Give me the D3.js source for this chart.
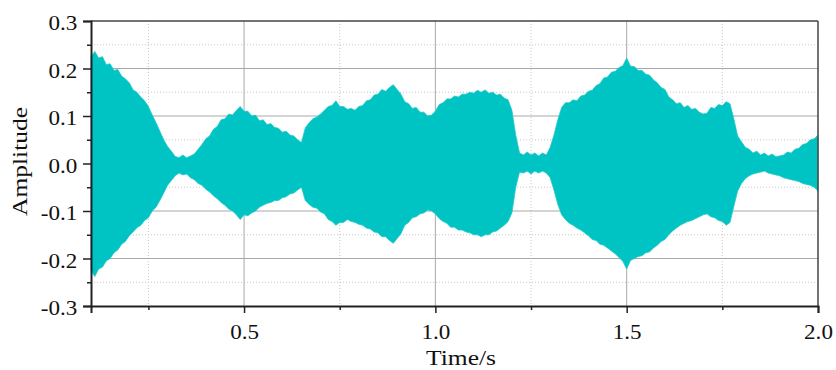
<!DOCTYPE html>
<html>
<head>
<meta charset="utf-8">
<script src="https://cdn.jsdelivr.net/npm/d3@7/dist/d3.min.js"></script>
<style>
  body { margin: 0; background: #fff; }
  svg { display: block; font-family: "Liberation Serif", "Times New Roman", serif; }
</style>
</head>
<body>
<svg id="svg1" width="836" height="370"></svg>
<script>
// envelope of the signal (upper / lower peaks), every 0.01 s
var time = [0.10, 0.11, 0.12, 0.13, 0.14, 0.15, 0.16, 0.17, 0.18, 0.19,
    0.20, 0.21, 0.22, 0.23, 0.24, 0.25, 0.26, 0.27, 0.28, 0.29,
    0.30, 0.31, 0.32, 0.33, 0.34, 0.35, 0.36, 0.37, 0.38, 0.39,
    0.40, 0.41, 0.42, 0.43, 0.44, 0.45, 0.46, 0.47, 0.48, 0.49,
    0.50, 0.51, 0.52, 0.53, 0.54, 0.55, 0.56, 0.57, 0.58, 0.59,
    0.60, 0.61, 0.62, 0.63, 0.64, 0.65, 0.66, 0.67, 0.68, 0.69,
    0.70, 0.71, 0.72, 0.73, 0.74, 0.75, 0.76, 0.77, 0.78, 0.79,
    0.80, 0.81, 0.82, 0.83, 0.84, 0.85, 0.86, 0.87, 0.88, 0.89,
    0.90, 0.91, 0.92, 0.93, 0.94, 0.95, 0.96, 0.97, 0.98, 0.99,
    1.00, 1.01, 1.02, 1.03, 1.04, 1.05, 1.06, 1.07, 1.08, 1.09,
    1.10, 1.11, 1.12, 1.13, 1.14, 1.15, 1.16, 1.17, 1.18, 1.19,
    1.20, 1.21, 1.22, 1.23, 1.24, 1.25, 1.26, 1.27, 1.28, 1.29,
    1.30, 1.31, 1.32, 1.33, 1.34, 1.35, 1.36, 1.37, 1.38, 1.39,
    1.40, 1.41, 1.42, 1.43, 1.44, 1.45, 1.46, 1.47, 1.48, 1.49,
    1.50, 1.51, 1.52, 1.53, 1.54, 1.55, 1.56, 1.57, 1.58, 1.59,
    1.60, 1.61, 1.62, 1.63, 1.64, 1.65, 1.66, 1.67, 1.68, 1.69,
    1.70, 1.71, 1.72, 1.73, 1.74, 1.75, 1.76, 1.77, 1.78, 1.79,
    1.80, 1.81, 1.82, 1.83, 1.84, 1.85, 1.86, 1.87, 1.88, 1.89,
    1.90, 1.91, 1.92, 1.93, 1.94, 1.95, 1.96, 1.97, 1.98, 1.99,
    2.00];
var upper = [0.225, 0.236, 0.222, 0.225, 0.208, 0.21, 0.196, 0.198, 0.184, 0.178,
    0.17, 0.155, 0.15, 0.14, 0.132, 0.12, 0.102, 0.086, 0.068, 0.05,
    0.036, 0.026, 0.015, 0.012, 0.018, 0.012, 0.016, 0.02, 0.03, 0.04,
    0.052, 0.058, 0.072, 0.078, 0.092, 0.094, 0.104, 0.102, 0.112, 0.12,
    0.11, 0.11, 0.1, 0.102, 0.09, 0.092, 0.082, 0.084, 0.076, 0.074,
    0.066, 0.068, 0.06, 0.058, 0.05, 0.044, 0.075, 0.086, 0.094, 0.098,
    0.104, 0.112, 0.12, 0.122, 0.132, 0.12, 0.12, 0.114, 0.116, 0.112,
    0.12, 0.122, 0.132, 0.134, 0.144, 0.146, 0.156, 0.152, 0.16, 0.166,
    0.156, 0.146, 0.13, 0.126, 0.116, 0.118, 0.108, 0.108, 0.1, 0.102,
    0.11, 0.124, 0.128, 0.136, 0.136, 0.142, 0.14, 0.146, 0.146, 0.15,
    0.148, 0.154, 0.15, 0.155, 0.148, 0.15, 0.144, 0.146, 0.138, 0.134,
    0.112, 0.06, 0.022, 0.018, 0.024, 0.018, 0.022, 0.016, 0.022, 0.018,
    0.034, 0.06, 0.092, 0.118, 0.128, 0.128, 0.134, 0.132, 0.142, 0.144,
    0.152, 0.154, 0.164, 0.168, 0.18, 0.182, 0.192, 0.194, 0.202, 0.206,
    0.222, 0.205, 0.204, 0.196, 0.196, 0.188, 0.186, 0.176, 0.17, 0.16,
    0.156, 0.14, 0.134, 0.126, 0.128, 0.118, 0.122, 0.114, 0.116, 0.108,
    0.104, 0.106, 0.118, 0.116, 0.124, 0.122, 0.13, 0.126, 0.094, 0.058,
    0.046, 0.034, 0.03, 0.022, 0.026, 0.018, 0.022, 0.016, 0.02, 0.014,
    0.016, 0.018, 0.024, 0.022, 0.03, 0.032, 0.04, 0.042, 0.05, 0.052,
    0.06];
var lower = [-0.225, -0.238, -0.222, -0.218, -0.205, -0.2, -0.188, -0.182, -0.17, -0.164,
    -0.152, -0.144, -0.135, -0.13, -0.12, -0.114, -0.1, -0.092, -0.078, -0.062,
    -0.046, -0.036, -0.026, -0.02, -0.024, -0.022, -0.03, -0.034, -0.042, -0.046,
    -0.054, -0.06, -0.068, -0.074, -0.082, -0.088, -0.096, -0.1, -0.108, -0.118,
    -0.108, -0.11, -0.104, -0.1, -0.092, -0.088, -0.084, -0.082, -0.078, -0.078,
    -0.072, -0.07, -0.064, -0.062, -0.056, -0.05, -0.078, -0.086, -0.092, -0.094,
    -0.102, -0.106, -0.118, -0.122, -0.13, -0.124, -0.124, -0.118, -0.122, -0.124,
    -0.128, -0.13, -0.136, -0.138, -0.144, -0.146, -0.154, -0.154, -0.162, -0.168,
    -0.158, -0.148, -0.13, -0.124, -0.114, -0.112, -0.106, -0.104, -0.098, -0.1,
    -0.106, -0.116, -0.122, -0.126, -0.134, -0.134, -0.14, -0.14, -0.144, -0.146,
    -0.15, -0.15, -0.154, -0.15, -0.15, -0.144, -0.142, -0.136, -0.13, -0.122,
    -0.104, -0.05, -0.018, -0.02, -0.016, -0.022, -0.016, -0.02, -0.016, -0.02,
    -0.03, -0.056, -0.086, -0.108, -0.118, -0.126, -0.13, -0.136, -0.14, -0.146,
    -0.152, -0.16, -0.162, -0.17, -0.172, -0.178, -0.184, -0.19, -0.198, -0.206,
    -0.222, -0.204, -0.2, -0.196, -0.194, -0.188, -0.186, -0.178, -0.172, -0.164,
    -0.16, -0.15, -0.142, -0.136, -0.13, -0.126, -0.122, -0.12, -0.116, -0.112,
    -0.108, -0.106, -0.112, -0.114, -0.12, -0.122, -0.13, -0.124, -0.09, -0.058,
    -0.042, -0.032, -0.026, -0.022, -0.02, -0.018, -0.016, -0.02, -0.022, -0.024,
    -0.026, -0.03, -0.032, -0.034, -0.036, -0.038, -0.042, -0.044, -0.046, -0.05,
    -0.058];

var xTicks = [0.5, 1.0, 1.5, 2.0];
var xMinor = [0.25, 0.75, 1.25, 1.75];
var yTicks = [-0.3, -0.2, -0.1, 0.0, 0.1, 0.2, 0.3];
var yMinor = [-0.25, -0.15, -0.05, 0.05, 0.15, 0.25];

var plotLeft = 91, plotRight = 818, plotTop = 21, plotBottom = 306;

var svg = d3.select('#svg1');

var scaleX = d3.scaleLinear().domain([0.1, 2.0]).range([plotLeft, plotRight]);
var scaleY = d3.scaleLinear().domain([-0.3, 0.3]).range([plotBottom, plotTop]);

// plain hyphen for negatives, like the original
var fmt = function(d){ return d3.format('.1f')(d).replace('\u2212', '-'); };

// minor grid (dotted)
svg.append('g').selectAll('line')
    .data(xMinor).enter().append('line')
    .attr('x1', function(d){ return scaleX(d); })
    .attr('x2', function(d){ return scaleX(d); })
    .attr('y1', plotTop).attr('y2', plotBottom)
    .attr('stroke', '#c8c8c8').attr('stroke-width', 1)
    .attr('stroke-dasharray', '1,2');
svg.append('g').selectAll('line')
    .data(yMinor).enter().append('line')
    .attr('x1', plotLeft).attr('x2', plotRight)
    .attr('y1', function(d){ return scaleY(d); })
    .attr('y2', function(d){ return scaleY(d); })
    .attr('stroke', '#c8c8c8').attr('stroke-width', 1)
    .attr('stroke-dasharray', '1,2');

// major grid
svg.append('g').selectAll('line')
    .data(xTicks.slice(0, 3)).enter().append('line')
    .attr('x1', function(d){ return scaleX(d); })
    .attr('x2', function(d){ return scaleX(d); })
    .attr('y1', plotTop).attr('y2', plotBottom)
    .attr('stroke', '#a8a8a8').attr('stroke-width', 1);
svg.append('g').selectAll('line')
    .data(yTicks.slice(1, 6)).enter().append('line')
    .attr('x1', plotLeft).attr('x2', plotRight)
    .attr('y1', function(d){ return scaleY(d); })
    .attr('y2', function(d){ return scaleY(d); })
    .attr('stroke', '#a8a8a8').attr('stroke-width', 1);

// signal envelope
var pts = time.map(function(t, i){ return {t: t, hi: upper[i], lo: lower[i]}; });
var area = d3.area()
    .x(function(d){ return scaleX(d.t); })
    .y0(function(d){ return scaleY(d.lo); })
    .y1(function(d){ return scaleY(d.hi); });
svg.append('path')
    .datum(pts)
    .attr('d', area)
    .attr('fill', '#00c4c4')
    .attr('stroke', '#22c8c8')
    .attr('stroke-width', 0.8);

// frame top / right
svg.append('line').attr('x1', plotLeft).attr('x2', plotRight).attr('y1', plotTop).attr('y2', plotTop)
    .attr('stroke', '#444').attr('stroke-width', 1.5);
svg.append('line').attr('x1', plotRight).attr('x2', plotRight).attr('y1', plotTop).attr('y2', plotBottom)
    .attr('stroke', '#444').attr('stroke-width', 1.5);

// axes
var xAxis = svg.append('g')
    .attr('transform', 'translate(0,' + plotBottom + ')')
    .call(d3.axisBottom(scaleX).tickValues(xTicks).tickFormat(fmt).tickSize(7).tickPadding(11));
var xAxisMinor = svg.append('g')
    .attr('transform', 'translate(0,' + plotBottom + ')')
    .call(d3.axisBottom(scaleX).tickValues(xMinor).tickFormat('').tickSize(4));
var yAxis = svg.append('g')
    .attr('transform', 'translate(' + plotLeft + ',0)')
    .call(d3.axisLeft(scaleY).tickValues(yTicks).tickFormat(fmt).tickSize(8).tickPadding(5));
var yAxisMinor = svg.append('g')
    .attr('transform', 'translate(' + plotLeft + ',0)')
    .call(d3.axisLeft(scaleY).tickValues(yMinor).tickFormat('').tickSize(4));

svg.selectAll('.domain').attr('stroke', '#222').attr('stroke-width', 2);
xAxisMinor.select('.domain').remove();
yAxisMinor.select('.domain').remove();
svg.selectAll('.tick line').attr('stroke', '#222').attr('stroke-width', 1.5);
svg.selectAll('.tick text')
    .attr('font-family', '"Liberation Serif", serif')
    .attr('font-size', 21)
    .attr('fill', '#111')
    .attr('transform', 'scale(1.1,1)');
// the labels in the original are a bit wider than the font
yAxis.selectAll('.tick text').attr('x', -12.5).attr('dy', '0.42em');

// axis titles
svg.append('text')
    .attr('transform', 'translate(461,365) scale(1.16,1)')
    .attr('text-anchor', 'middle')
    .attr('font-size', 22).attr('fill', '#111')
    .text('Time/s');
svg.append('text')
    .attr('transform', 'translate(27,' + (scaleY(0) - 2) + ') rotate(-90) scale(1.16,1)')
    .attr('text-anchor', 'middle')
    .attr('font-size', 22).attr('fill', '#111')
    .text('Amplitude');
</script>
</body>
</html>
